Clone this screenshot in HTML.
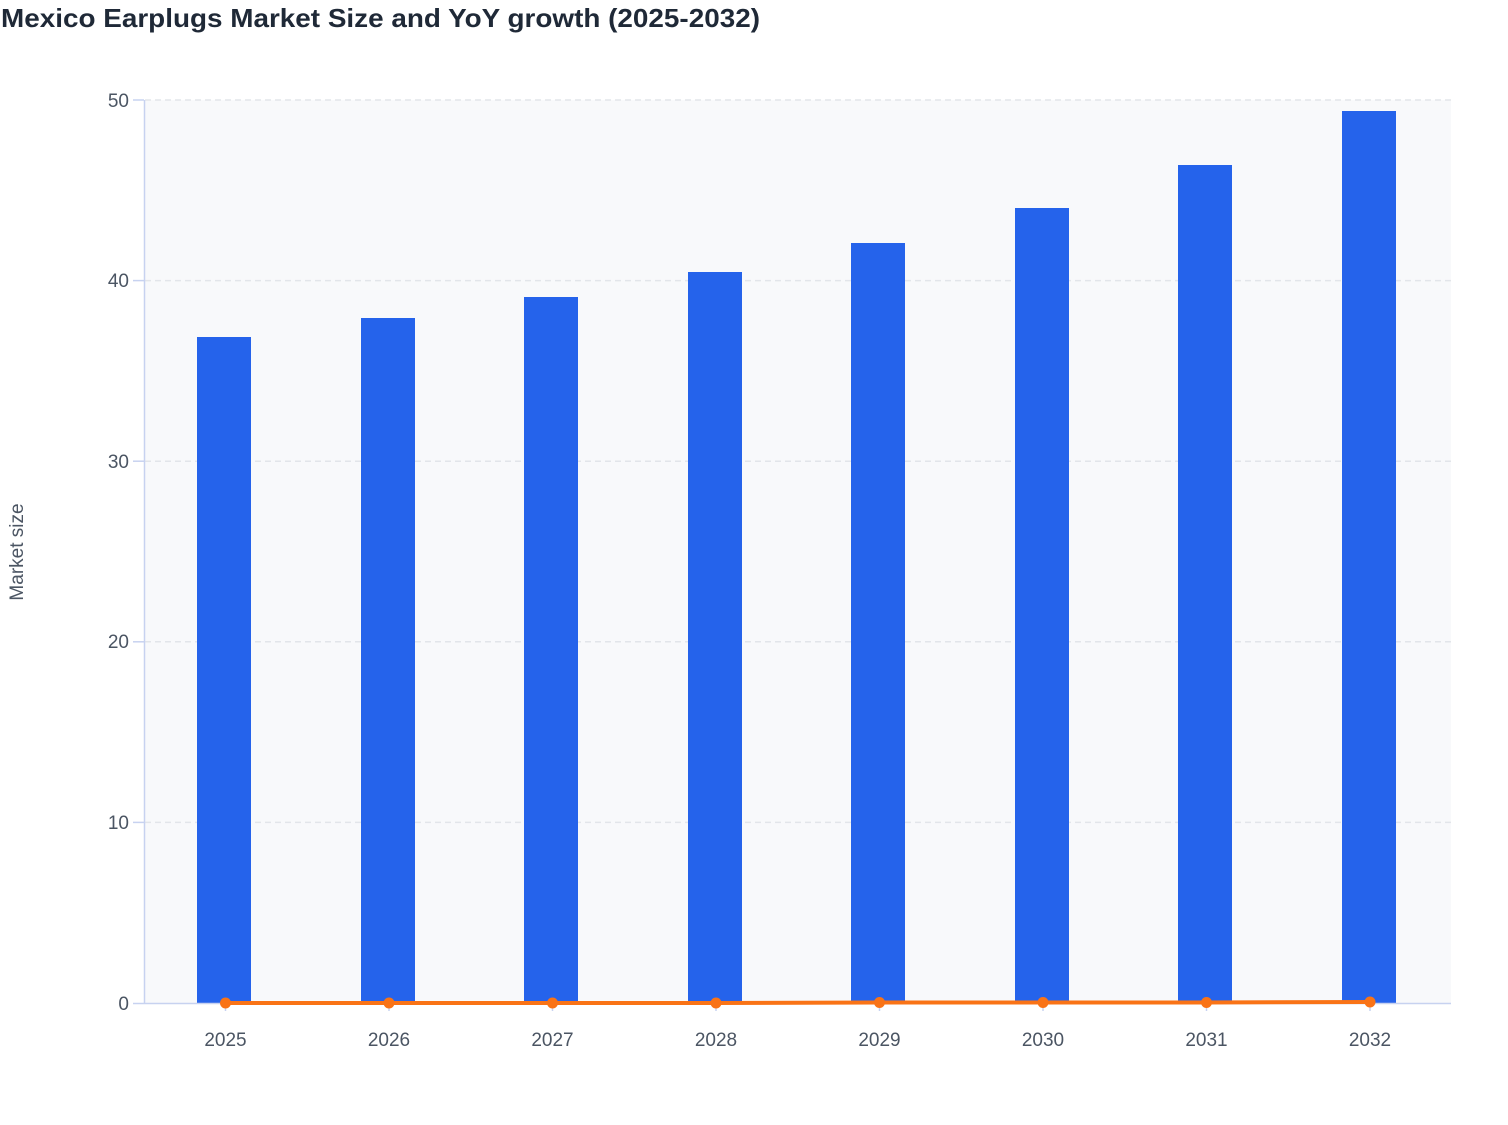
<!DOCTYPE html>
<html><head><style>
body{margin:0;background:#fff;}
text{font-family:"Liberation Sans",sans-serif;}
</style></head><body>
<svg width="1508" height="1120" xmlns="http://www.w3.org/2000/svg">
<rect width="1508" height="1120" fill="#fff"/>
<text x="1" y="27" font-size="26" font-weight="bold" fill="#1f2937" textLength="759" lengthAdjust="spacingAndGlyphs">Mexico Earplugs Market Size and YoY growth (2025-2032)</text>
<rect x="145" y="100" width="1306" height="903" fill="#f8f9fb"/>
<g stroke="#e2e5ea" stroke-width="1.5" stroke-dasharray="6,4">
<line x1="145" x2="1451" y1="100" y2="100"/>
<line x1="145" x2="1451" y1="280.6" y2="280.6"/>
<line x1="145" x2="1451" y1="461.2" y2="461.2"/>
<line x1="145" x2="1451" y1="641.8" y2="641.8"/>
<line x1="145" x2="1451" y1="822.4" y2="822.4"/>
</g>
<g fill="#2563eb">
<rect x="197" y="337" width="54" height="666"/>
<rect x="361" y="318" width="54" height="685"/>
<rect x="524" y="297" width="54" height="706"/>
<rect x="688" y="272" width="54" height="731"/>
<rect x="851" y="243" width="54" height="760"/>
<rect x="1015" y="208" width="54" height="795"/>
<rect x="1178" y="165" width="54" height="838"/>
<rect x="1342" y="111" width="54" height="892"/>
</g>
<line x1="144.5" y1="100" x2="144.5" y2="1004" stroke="#c7d2f0" stroke-width="1.5"/>
<line x1="144" y1="1003.5" x2="1451" y2="1003.5" stroke="#c7d2f0" stroke-width="1.5"/>
<g stroke="#c7d2f0" stroke-width="1.5">
<line x1="133" x2="144" y1="100" y2="100"/><line x1="133" x2="144" y1="280.6" y2="280.6"/>
<line x1="133" x2="144" y1="461.2" y2="461.2"/><line x1="133" x2="144" y1="641.8" y2="641.8"/>
<line x1="133" x2="144" y1="822.4" y2="822.4"/><line x1="133" x2="144" y1="1003.5" y2="1003.5"/>
<line x1="225.5" x2="225.5" y1="1004" y2="1011"/><line x1="389" x2="389" y1="1004" y2="1011"/>
<line x1="552.5" x2="552.5" y1="1004" y2="1011"/><line x1="716" x2="716" y1="1004" y2="1011"/>
<line x1="879.5" x2="879.5" y1="1004" y2="1011"/><line x1="1043" x2="1043" y1="1004" y2="1011"/>
<line x1="1206.5" x2="1206.5" y1="1004" y2="1011"/><line x1="1370" x2="1370" y1="1004" y2="1011"/>
</g>
<polyline points="225.5,1003 389,1003 552.5,1003 716,1003 879.5,1002.5 1043,1002.5 1206.5,1002.5 1370,1002" fill="none" stroke="#f97316" stroke-width="4"/>
<g fill="#f97316">
<circle cx="225.5" cy="1003" r="5.5"/><circle cx="389" cy="1003" r="5.5"/><circle cx="552.5" cy="1003" r="5.5"/><circle cx="716" cy="1003" r="5.5"/>
<circle cx="879.5" cy="1002.5" r="5.5"/><circle cx="1043" cy="1002.5" r="5.5"/><circle cx="1206.5" cy="1002.5" r="5.5"/><circle cx="1370" cy="1002" r="5.5"/>
</g>
<g font-size="19" fill="#4b5563" text-anchor="end">
<text x="129" y="107">50</text><text x="129" y="287">40</text><text x="129" y="468">30</text>
<text x="129" y="648">20</text><text x="129" y="829">10</text><text x="129" y="1010">0</text>
</g>
<g font-size="19" fill="#4b5563" text-anchor="middle">
<text x="225.5" y="1046">2025</text><text x="389" y="1046">2026</text><text x="552.5" y="1046">2027</text><text x="716" y="1046">2028</text>
<text x="879.5" y="1046">2029</text><text x="1043" y="1046">2030</text><text x="1206.5" y="1046">2031</text><text x="1370" y="1046">2032</text>
</g>
<text transform="translate(23,552) rotate(-90)" font-size="19" fill="#4b5563" text-anchor="middle">Market size</text>
</svg>
</body></html>
